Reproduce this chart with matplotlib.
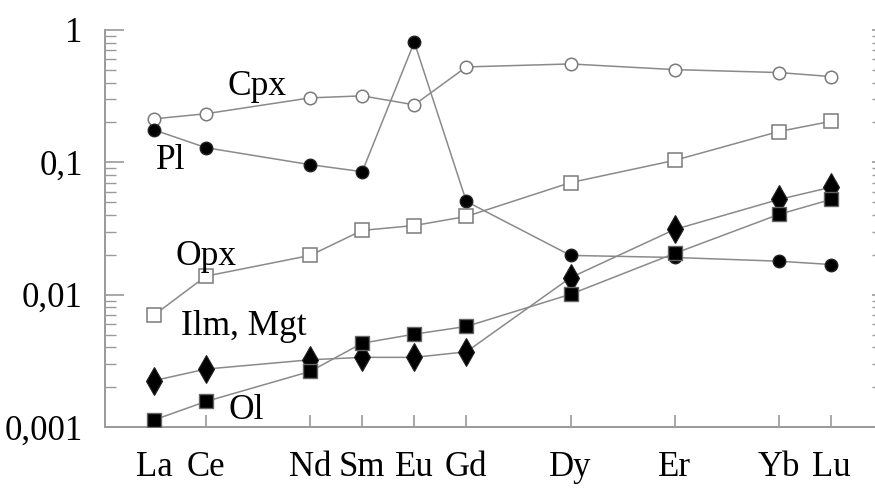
import matplotlib
matplotlib.use("Agg")
import matplotlib.pyplot as plt
from matplotlib.ticker import LogLocator, FixedLocator, NullFormatter

elements = ["La", "Ce", "Nd", "Sm", "Eu", "Gd", "Dy", "Er", "Yb", "Lu"]
positions = [0, 1, 3, 4, 5, 6, 8, 10, 12, 13]

cpx = [0.213, 0.233, 0.307, 0.318, 0.272, 0.526, 0.554, 0.502, 0.477, 0.445]
pl = [0.176, 0.129, 0.096, 0.085, 0.81, 0.0506, 0.0198, 0.0191, 0.0179, 0.0169]
opx = [0.0070, 0.0138, 0.0198, 0.0306, 0.0333, 0.039, 0.0703, 0.1035, 0.171, 0.204]
ilm_mgt = [0.00224, 0.00274, 0.00322, 0.00336, 0.00336, 0.0037, 0.01345, 0.0311, 0.0524, 0.0648]
ol = [0.00113, 0.00156, 0.00263, 0.0043, 0.00503, 0.00575, 0.01007, 0.0205, 0.0404, 0.0524]

ytick_vals = [0.001, 0.01, 0.1, 1]
ytick_labels = ["0,001", "0,01", "0,1", "1"]

plt.rcParams["font.family"] = ["Liberation Serif", "DejaVu Serif"]

fig = plt.figure(figsize=(8.75, 4.92), dpi=100)
ax = fig.add_axes([105/875, 1 - 427/492, 1 - 105/875 + 0.001, (427 - 30)/492])

line_c = "#8a8a8a"
lw = 1.1

ax.plot(positions, cpx, color=line_c, lw=lw, marker="o", ms=9, mfc="white", mec="#7a7a7a", mew=1.1, zorder=3)
ax.plot(positions, pl, color=line_c, lw=lw, marker="o", ms=9, mfc="black", mec="#222222", mew=1.0, zorder=3)
ax.plot(positions, opx, color=line_c, lw=lw, marker="s", ms=10, mfc="white", mec="#7a7a7a", mew=1.1, zorder=3)
ax.plot(positions, ilm_mgt, color=line_c, lw=lw, marker="d", ms=14, mfc="black", mec="#222222", mew=0.8, zorder=3)
ax.plot(positions, ol, color=line_c, lw=lw, marker="s", ms=9.5, mfc="black", mec="#666666", mew=1.0, zorder=3)

ax.set_yscale("log")
ax.set_ylim(0.001, 1)
ax.set_xlim((105 - 154) / 52.15, (877 - 154) / 52.15)

ax.set_xticks(positions)
ax.set_xticklabels(elements)
ax.yaxis.set_major_locator(FixedLocator(ytick_vals))
ax.set_yticklabels(ytick_labels)
ax.yaxis.set_minor_locator(LogLocator(base=10, subs=range(2, 10)))
ax.yaxis.set_minor_formatter(NullFormatter())

for s in ["top", "right"]:
    ax.spines[s].set_visible(False)
for s in ["left", "bottom"]:
    ax.spines[s].set_color("#9a9a9a")
    ax.spines[s].set_linewidth(1.4)

ax.tick_params(axis="x", direction="in", length=9, width=1.2, color="#9a9a9a",
               labelsize=25, pad=17)
ax.tick_params(axis="y", which="major", direction="in", length=14, width=1.2,
               color="#9a9a9a", labelsize=25, pad=16, right=True)
ax.tick_params(axis="y", which="minor", direction="in", length=8, width=1.0,
               color="#9a9a9a", right=True)
# faint right-side ticks
for t in ax.yaxis.get_major_ticks() + ax.yaxis.get_minor_ticks():
    t.tick2line.set_color("#dddddd")
    t.tick2line.set_markersize(3)

fs = 25.5
ax.text(1.97, 0.375, "Cpx", fontsize=fs, ha="center", va="center", zorder=4)
ax.text(0.33, 0.104, "Pl", fontsize=fs, ha="center", va="center", zorder=4)
ax.text(1.0, 0.0195, "Opx", fontsize=fs, ha="center", va="center", zorder=4)
ax.text(1.72, 0.0057, "Ilm, Mgt", fontsize=fs, ha="center", va="center", zorder=4)
ax.text(1.78, 0.00133, "Ol", fontsize=fs, ha="center", va="center", zorder=4)

fig.savefig("out.png", dpi=100)
